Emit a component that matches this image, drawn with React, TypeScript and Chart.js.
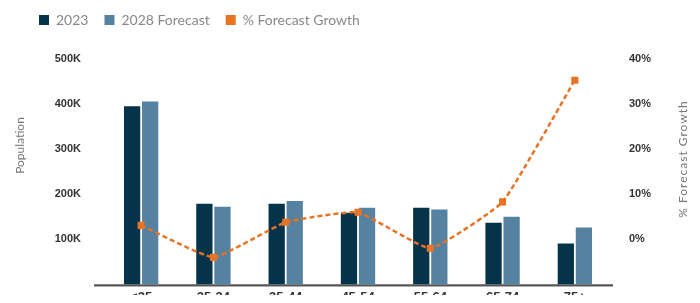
import React, { useEffect, useRef } from 'react';
import { Chart, registerables } from 'chart.js';

Chart.register(...registerables);

const categories = ['<25', '25-34', '35-44', '45-54', '55-64', '65-74', '75+'];
const pop2023 = [395000, 179000, 179000, 159000, 170000, 137000, 90500];
const pop2028 = [406000, 172000, 185000, 170000, 166000, 150000, 126000];
const growthPct = [3.1, -4.0, 3.8, 6.0, -2.0, 8.3, 35.3];
const seriesLabels = ['2023', '2028 Forecast', '% Forecast Growth'];
const leftTitle = 'Population';
const rightTitle = '% Forecast Growth';

const C2023 = '#04334a';
const C2028 = '#5482a0';
const CORANGE = '#e87324';
const legendColors = [C2023, C2028, CORANGE];

const TICK_FONT = { family: '"Liberation Sans", Arial, sans-serif', weight: 'bold' as const, size: 11 };

const axisLinePlugin = {
  id: 'axisLine',
  beforeDatasetsDraw(chart: any) {
    const { ctx, chartArea } = chart;
    const { left, right, bottom } = chartArea;
    ctx.save();
    ctx.fillStyle = '#333333';
    ctx.fillRect(left - 11, bottom, right - left + 13, 1.5);
    ctx.fillStyle = '#a8a8a8';
    ctx.fillRect(left - 11, bottom + 1.5, right - left + 13, 1);
    ctx.restore();
  },
};

const axisTitlesPlugin = {
  id: 'axisTitles',
  afterDraw(chart: any) {
    const { ctx } = chart;
    ctx.save();
    ctx.fillStyle = '#777777';
    ctx.font = '12px Lato, sans-serif';
    ctx.textAlign = 'center';
    ctx.textBaseline = 'middle';
    ctx.translate(12, 137.5);
    ctx.rotate(-Math.PI / 2);
    ctx.fillText(leftTitle, 0, 0);
    ctx.restore();

    ctx.save();
    ctx.fillStyle = '#777777';
    ctx.font = '12px Lato, sans-serif';
    try { (ctx as any).letterSpacing = '1px'; } catch (e) {}
    ctx.textAlign = 'center';
    ctx.textBaseline = 'middle';
    ctx.translate(675.5, 151);
    ctx.rotate(-Math.PI / 2);
    ctx.fillText(rightTitle, 0, 0);
    ctx.restore();
  },
};

const legendShiftPlugin = {
  id: 'legendShift',
  afterLayout(chart: any) {
    const lg = chart.legend;
    if (lg) {
      lg.left += 15;
      lg.right += 15;
      lg.top -= 22;
      lg.bottom -= 22;
    }
  },
};

export default function App() {
  const canvasRef = useRef<HTMLCanvasElement | null>(null);

  useEffect(() => {
    if (!canvasRef.current) return;
    const chart = new Chart(canvasRef.current, {
      type: 'bar',
      data: {
        labels: categories,
        datasets: [
          {
            type: 'bar',
            label: seriesLabels[0],
            data: pop2023,
            backgroundColor: C2023,
            yAxisID: 'y',
            categoryPercentage: 0.5,
            barPercentage: 0.9,
            order: 1,
          },
          {
            type: 'bar',
            label: seriesLabels[1],
            data: pop2028,
            backgroundColor: C2028,
            yAxisID: 'y',
            categoryPercentage: 0.5,
            barPercentage: 0.9,
            order: 1,
          },
          {
            type: 'line',
            label: seriesLabels[2],
            data: growthPct,
            yAxisID: 'y1',
            borderColor: CORANGE,
            backgroundColor: CORANGE,
            borderWidth: 2.5,
            borderDash: [5, 3],
            pointStyle: 'rect',
            pointRadius: 5,
            pointBorderWidth: 0,
            pointBackgroundColor: CORANGE,
            tension: 0.12,
            fill: false,
            order: 0,
          } as any,
        ],
      },
      options: {
        animation: false,
        responsive: false,
        layout: { padding: { top: 11 } },
        plugins: {
          legend: {
            position: 'top',
            align: 'start',
            labels: {
              boxWidth: 10,
              boxHeight: 10,
              padding: 16,
              color: '#888888',
              font: { family: 'Lato, sans-serif', size: 14 },
              generateLabels: (ch: any) =>
                ch.data.datasets.map((ds: any, i: number) => ({
                  text: ds.label,
                  fillStyle: legendColors[i],
                  strokeStyle: legendColors[i],
                  lineWidth: 0,
                  lineDash: [],
                  hidden: !ch.isDatasetVisible(i),
                  datasetIndex: i,
                  fontColor: '#888888',
                })),
            },
          },
          tooltip: { enabled: false },
        },
        scales: {
          x: {
            grid: { display: false, drawTicks: false },
            border: { display: false },
            ticks: {
              padding: 5,
              color: '#333333',
              font: { family: '"Liberation Sans", Arial, sans-serif', weight: 'bold', size: 13 },
            },
          },
          y: {
            position: 'left',
            min: 0,
            max: 500000,
            grid: { display: false, drawTicks: false },
            border: { display: false },
            ticks: {
              stepSize: 100000,
              padding: 24,
              color: '#333333',
              font: TICK_FONT,
              callback: (v: any) => (v === 0 ? null : `${Math.round(v / 1000)}K`),
            },
            afterFit: (s: any) => {
              s.width = 97;
            },
          },
          y1: {
            position: 'right',
            min: -10,
            max: 40,
            grid: { display: false, drawTicks: false },
            border: { display: false },
            ticks: {
              stepSize: 10,
              padding: 18,
              color: '#333333',
              font: TICK_FONT,
              callback: (v: any) => (v < 0 ? null : `${v}%`),
            },
            afterFit: (s: any) => {
              s.width = 89;
            },
          },
        },
      } as any,
      plugins: [axisLinePlugin, axisTitlesPlugin, legendShiftPlugin],
    });
    return () => chart.destroy();
  }, []);

  return (
    <div style={{ width: 692, height: 295, marginBottom: -8, overflow: 'hidden' }}>
      <canvas ref={canvasRef} width={692} height={307} style={{ display: 'block' }} />
    </div>
  );
}
